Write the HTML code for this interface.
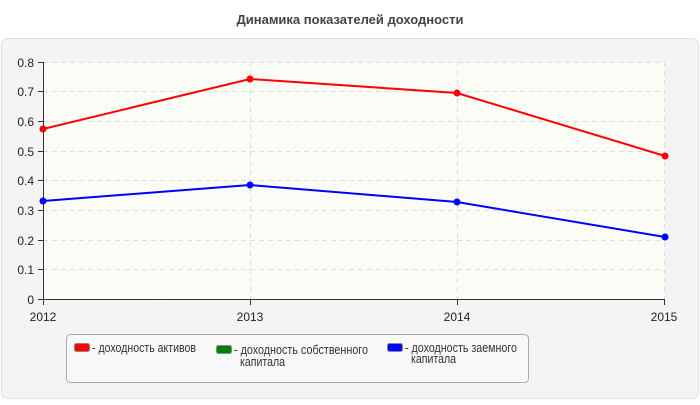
<!DOCTYPE html>
<html><head><meta charset="utf-8"><style>
body{margin:0;width:700px;height:400px;background:#fff;font-family:"Liberation Sans",sans-serif;overflow:hidden}
</style></head><body>
<svg width="700" height="400" xmlns="http://www.w3.org/2000/svg" font-family="Liberation Sans, sans-serif">
<defs><pattern id="h" width="6" height="6" patternUnits="userSpaceOnUse" patternTransform="rotate(-45)"><rect width="6" height="6" fill="#fdfdf8"/><line x1="0" y1="0" x2="6" y2="0" stroke="#f0f0ea" stroke-width="1"/></pattern></defs>
<text x="350" y="24" text-anchor="middle" font-size="13" font-weight="bold" fill="#444">Динамика показателей доходности</text>
<rect x="1.5" y="38.5" width="697" height="360" rx="6" fill="#f4f4f4" stroke="#e0e0e0"/>
<rect x="43" y="62" width="622" height="237" fill="url(#h)"/>
<g stroke="#ddd" stroke-dasharray="5,4" stroke-width="1">
<line x1="43" y1="62.5" x2="665" y2="62.5"/><line x1="43" y1="91.5" x2="665" y2="91.5"/><line x1="43" y1="121.5" x2="665" y2="121.5"/><line x1="43" y1="151.5" x2="665" y2="151.5"/><line x1="43" y1="180.5" x2="665" y2="180.5"/><line x1="43" y1="210.5" x2="665" y2="210.5"/><line x1="43" y1="240.5" x2="665" y2="240.5"/><line x1="43" y1="269.5" x2="665" y2="269.5"/>
<line x1="250.5" y1="62" x2="250.5" y2="299"/><line x1="457.5" y1="62" x2="457.5" y2="299"/><line x1="664.5" y1="62" x2="664.5" y2="299"/>
</g>
<g stroke="#333" stroke-width="1"><line x1="43.5" y1="62" x2="43.5" y2="300"/><line x1="43" y1="299.5" x2="665" y2="299.5"/>
<line x1="38" y1="62.5" x2="43" y2="62.5"/><line x1="38" y1="91.5" x2="43" y2="91.5"/><line x1="38" y1="121.5" x2="43" y2="121.5"/><line x1="38" y1="151.5" x2="43" y2="151.5"/><line x1="38" y1="180.5" x2="43" y2="180.5"/><line x1="38" y1="210.5" x2="43" y2="210.5"/><line x1="38" y1="240.5" x2="43" y2="240.5"/><line x1="38" y1="269.5" x2="43" y2="269.5"/><line x1="38" y1="299.5" x2="43" y2="299.5"/>
<line x1="43.5" y1="299" x2="43.5" y2="305"/><line x1="250.5" y1="299" x2="250.5" y2="305"/><line x1="457.5" y1="299" x2="457.5" y2="305"/><line x1="664.5" y1="299" x2="664.5" y2="305"/></g>
<g font-size="12" fill="#222" text-anchor="end">
<text x="34" y="67">0.8</text><text x="34" y="96">0.7</text><text x="34" y="126">0.6</text><text x="34" y="156">0.5</text><text x="34" y="185">0.4</text><text x="34" y="215">0.3</text><text x="34" y="245">0.2</text><text x="34" y="274">0.1</text><text x="34" y="304">0</text></g>
<g font-size="12" fill="#222" text-anchor="middle"><text x="43" y="321">2012</text><text x="250" y="321">2013</text><text x="457" y="321">2014</text><text x="664" y="321">2015</text></g>
<polyline points="43,129 250,79 457,93 665,156" fill="none" stroke="#f00" stroke-width="2"/>
<polyline points="43,201 250,185 457,202 665,237" fill="none" stroke="#00f" stroke-width="2"/>
<g fill="#f00"><circle cx="43" cy="129" r="3.5"/><circle cx="250" cy="79" r="3.5"/><circle cx="457" cy="93" r="3.5"/><circle cx="665" cy="156" r="3.5"/></g>
<g fill="#00f"><circle cx="43" cy="201" r="3.5"/><circle cx="250" cy="185" r="3.5"/><circle cx="457" cy="202" r="3.5"/><circle cx="665" cy="237" r="3.5"/></g>
<rect x="66.5" y="334.5" width="462" height="48" rx="4" fill="#f8f8f8" stroke="#aaa"/>
<rect x="74.5" y="343.5" width="15" height="8" rx="2" fill="#f00" stroke="#888"/>
<rect x="216.5" y="345.5" width="15" height="8" rx="2" fill="#008000" stroke="#888"/>
<rect x="387.5" y="343.5" width="15" height="8" rx="2" fill="#00f" stroke="#888"/>
<g font-size="12.5" fill="#333">
<text x="92" y="352" textLength="104" lengthAdjust="spacingAndGlyphs">- доходность активов</text>
<text x="234" y="354" textLength="134" lengthAdjust="spacingAndGlyphs">- доходность собственного</text><text x="240" y="366" textLength="45" lengthAdjust="spacingAndGlyphs">капитала</text>
<text x="405" y="352" textLength="112" lengthAdjust="spacingAndGlyphs">- доходность заемного</text><text x="411" y="363" textLength="45" lengthAdjust="spacingAndGlyphs">капитала</text>
</g>
</svg>
</body></html>
